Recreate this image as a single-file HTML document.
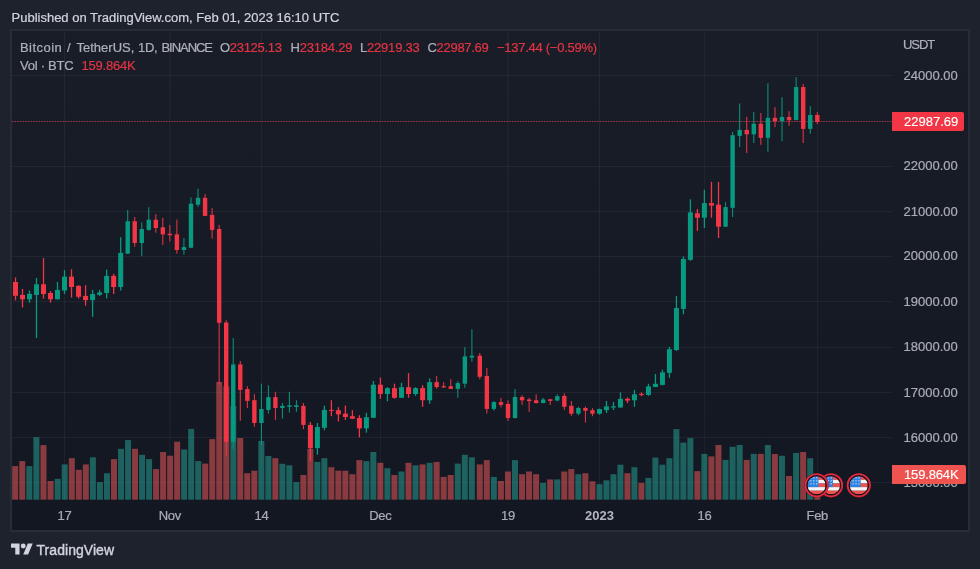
<!DOCTYPE html>
<html lang="en"><head><meta charset="utf-8"><title>Bitcoin / TetherUS chart</title>
<style>
html,body{margin:0;padding:0;}
body{width:980px;height:569px;background:#1e222d;overflow:hidden;position:relative;font-family:"Liberation Sans",sans-serif;font-size:13px;color:#adb0ba;}
.t{position:absolute;white-space:nowrap;line-height:16px;height:16px;-webkit-text-stroke:0.22px currentColor;}
#chart{position:absolute;left:10px;top:29px;width:956px;height:499px;border:2px solid #282c37;background:linear-gradient(#191d28,#131722);}
svg{position:absolute;left:0;top:0;}
.r{color:#e23443;}
.lab{position:absolute;left:892px;color:#fff;border-radius:0 2px 2px 0;height:19px;line-height:19px;}
.lab span{position:absolute;left:12px;top:0.4px;-webkit-text-stroke:0.15px #fff;}
.ax{left:903.5px;color:#a9acb6;}
.tm{top:508px;width:60px;text-align:center;color:#a9acb6;}
</style></head><body>
<div id="chart"></div>
<div class="t" id="pub" style="left:11.5px;top:10px;color:#d1d4dc;">Published on TradingView.com, Feb 01, 2023 16:10 UTC</div>
<div class="t ax" style="top:475px">15000.00</div>
<svg width="980" height="569" viewBox="0 0 980 569">
<rect x="12" y="75" width="880" height="1" fill="rgba(240,243,250,0.055)"/>
<rect x="12" y="121" width="880" height="1" fill="rgba(240,243,250,0.055)"/>
<rect x="12" y="166" width="880" height="1" fill="rgba(240,243,250,0.055)"/>
<rect x="12" y="211" width="880" height="1" fill="rgba(240,243,250,0.055)"/>
<rect x="12" y="256" width="880" height="1" fill="rgba(240,243,250,0.055)"/>
<rect x="12" y="301" width="880" height="1" fill="rgba(240,243,250,0.055)"/>
<rect x="12" y="347" width="880" height="1" fill="rgba(240,243,250,0.055)"/>
<rect x="12" y="392" width="880" height="1" fill="rgba(240,243,250,0.055)"/>
<rect x="12" y="437" width="880" height="1" fill="rgba(240,243,250,0.055)"/>
<rect x="12" y="482" width="880" height="1" fill="rgba(240,243,250,0.055)"/>
<rect x="64" y="31" width="1" height="469" fill="rgba(240,243,250,0.055)"/>
<rect x="169.35" y="31" width="1" height="469" fill="rgba(240,243,250,0.055)"/>
<rect x="260.9" y="31" width="1" height="469" fill="rgba(240,243,250,0.055)"/>
<rect x="379.9" y="31" width="1" height="469" fill="rgba(240,243,250,0.055)"/>
<rect x="507.5" y="31" width="1" height="469" fill="rgba(240,243,250,0.055)"/>
<rect x="599" y="31" width="1" height="469" fill="rgba(240,243,250,0.055)"/>
<rect x="703.9" y="31" width="1" height="469" fill="rgba(240,243,250,0.055)"/>
<rect x="816.8" y="31" width="1" height="469" fill="rgba(240,243,250,0.055)"/>
<rect x="12.15" y="466.1" width="6.0" height="33.6" fill="rgba(253,93,93,0.5)"/>
<rect x="19.23" y="461.1" width="6.0" height="38.6" fill="rgba(253,93,93,0.5)"/>
<rect x="26.31" y="466.1" width="6.0" height="33.6" fill="rgba(38,172,156,0.5)"/>
<rect x="33.39" y="437.2" width="6.0" height="62.5" fill="rgba(38,172,156,0.5)"/>
<rect x="40.47" y="445.1" width="6.0" height="54.6" fill="rgba(253,93,93,0.5)"/>
<rect x="47.56" y="481" width="6.0" height="18.7" fill="rgba(253,93,93,0.5)"/>
<rect x="54.64" y="478.8" width="6.0" height="20.9" fill="rgba(38,172,156,0.5)"/>
<rect x="61.72" y="464.4" width="6.0" height="35.3" fill="rgba(38,172,156,0.5)"/>
<rect x="68.8" y="458.2" width="6.0" height="41.5" fill="rgba(253,93,93,0.5)"/>
<rect x="75.83" y="469.8" width="6.0" height="29.9" fill="rgba(253,93,93,0.5)"/>
<rect x="82.86" y="464.4" width="6.0" height="35.3" fill="rgba(253,93,93,0.5)"/>
<rect x="89.89" y="457.3" width="6.0" height="42.4" fill="rgba(38,172,156,0.5)"/>
<rect x="96.92" y="482.1" width="6.0" height="17.6" fill="rgba(38,172,156,0.5)"/>
<rect x="103.96" y="473.2" width="6.0" height="26.5" fill="rgba(38,172,156,0.5)"/>
<rect x="110.99" y="459.1" width="6.0" height="40.6" fill="rgba(253,93,93,0.5)"/>
<rect x="118.02" y="448.8" width="6.0" height="50.9" fill="rgba(38,172,156,0.5)"/>
<rect x="125.05" y="440.1" width="6.0" height="59.6" fill="rgba(38,172,156,0.5)"/>
<rect x="132.06" y="448.8" width="6.0" height="50.9" fill="rgba(253,93,93,0.5)"/>
<rect x="139.07" y="454.8" width="6.0" height="44.9" fill="rgba(38,172,156,0.5)"/>
<rect x="146.09" y="459.1" width="6.0" height="40.6" fill="rgba(38,172,156,0.5)"/>
<rect x="153.1" y="469.05" width="6.0" height="30.65" fill="rgba(253,93,93,0.5)"/>
<rect x="160.11" y="452" width="6.0" height="47.7" fill="rgba(253,93,93,0.5)"/>
<rect x="167.12" y="455.7" width="6.0" height="44" fill="rgba(253,93,93,0.5)"/>
<rect x="174.14" y="441.7" width="6.0" height="58" fill="rgba(253,93,93,0.5)"/>
<rect x="181.15" y="449.5" width="6.0" height="50.2" fill="rgba(38,172,156,0.5)"/>
<rect x="188.17" y="428.9" width="6.0" height="70.8" fill="rgba(38,172,156,0.5)"/>
<rect x="195.2" y="461.1" width="6.0" height="38.6" fill="rgba(38,172,156,0.5)"/>
<rect x="202.22" y="463.6" width="6.0" height="36.1" fill="rgba(253,93,93,0.5)"/>
<rect x="209.25" y="439.1" width="6.0" height="60.6" fill="rgba(253,93,93,0.5)"/>
<rect x="216.27" y="381.9" width="6.0" height="117.8" fill="rgba(253,93,93,0.5)"/>
<rect x="223.3" y="386.3" width="6.0" height="113.4" fill="rgba(253,93,93,0.5)"/>
<rect x="230.32" y="406" width="6.0" height="93.7" fill="rgba(38,172,156,0.5)"/>
<rect x="237.22" y="438" width="6.0" height="61.7" fill="rgba(253,93,93,0.5)"/>
<rect x="244.27" y="473.2" width="6.0" height="26.5" fill="rgba(253,93,93,0.5)"/>
<rect x="251.31" y="470.7" width="6.0" height="29" fill="rgba(253,93,93,0.5)"/>
<rect x="258.35" y="441" width="6.0" height="58.7" fill="rgba(38,172,156,0.5)"/>
<rect x="265.35" y="455.95" width="6.0" height="43.75" fill="rgba(38,172,156,0.5)"/>
<rect x="272.35" y="458.2" width="6.0" height="41.5" fill="rgba(253,93,93,0.5)"/>
<rect x="279.35" y="463.8" width="6.0" height="35.9" fill="rgba(38,172,156,0.5)"/>
<rect x="286.35" y="465.3" width="6.0" height="34.4" fill="rgba(38,172,156,0.5)"/>
<rect x="293.35" y="482.15" width="6.0" height="17.55" fill="rgba(38,172,156,0.5)"/>
<rect x="300.35" y="475" width="6.0" height="24.7" fill="rgba(253,93,93,0.5)"/>
<rect x="307.35" y="448.8" width="6.0" height="50.9" fill="rgba(253,93,93,0.5)"/>
<rect x="314.35" y="461.9" width="6.0" height="37.8" fill="rgba(38,172,156,0.5)"/>
<rect x="321.35" y="458.2" width="6.0" height="41.5" fill="rgba(38,172,156,0.5)"/>
<rect x="328.35" y="467.2" width="6.0" height="32.5" fill="rgba(253,93,93,0.5)"/>
<rect x="335.35" y="470.7" width="6.0" height="29" fill="rgba(253,93,93,0.5)"/>
<rect x="342.35" y="470.7" width="6.0" height="29" fill="rgba(253,93,93,0.5)"/>
<rect x="349.35" y="474.2" width="6.0" height="25.5" fill="rgba(253,93,93,0.5)"/>
<rect x="356.35" y="460.1" width="6.0" height="39.6" fill="rgba(253,93,93,0.5)"/>
<rect x="363.35" y="461.1" width="6.0" height="38.6" fill="rgba(38,172,156,0.5)"/>
<rect x="370.35" y="452" width="6.0" height="47.7" fill="rgba(38,172,156,0.5)"/>
<rect x="377.35" y="462.8" width="6.0" height="36.9" fill="rgba(253,93,93,0.5)"/>
<rect x="384.39" y="468.2" width="6.0" height="31.5" fill="rgba(38,172,156,0.5)"/>
<rect x="391.42" y="475" width="6.0" height="24.7" fill="rgba(253,93,93,0.5)"/>
<rect x="398.46" y="471.5" width="6.0" height="28.2" fill="rgba(38,172,156,0.5)"/>
<rect x="405.49" y="462.8" width="6.0" height="36.9" fill="rgba(253,93,93,0.5)"/>
<rect x="412.53" y="465.3" width="6.0" height="34.4" fill="rgba(38,172,156,0.5)"/>
<rect x="419.56" y="464.4" width="6.0" height="35.3" fill="rgba(253,93,93,0.5)"/>
<rect x="426.6" y="462.8" width="6.0" height="36.9" fill="rgba(38,172,156,0.5)"/>
<rect x="433.64" y="461.9" width="6.0" height="37.8" fill="rgba(253,93,93,0.5)"/>
<rect x="440.68" y="476.9" width="6.0" height="22.8" fill="rgba(253,93,93,0.5)"/>
<rect x="447.72" y="475" width="6.0" height="24.7" fill="rgba(253,93,93,0.5)"/>
<rect x="454.77" y="463.6" width="6.0" height="36.1" fill="rgba(38,172,156,0.5)"/>
<rect x="461.81" y="454.8" width="6.0" height="44.9" fill="rgba(38,172,156,0.5)"/>
<rect x="468.85" y="457.3" width="6.0" height="42.4" fill="rgba(38,172,156,0.5)"/>
<rect x="476.75" y="464.4" width="6.0" height="35.3" fill="rgba(253,93,93,0.5)"/>
<rect x="483.8" y="460.1" width="6.0" height="39.6" fill="rgba(253,93,93,0.5)"/>
<rect x="490.85" y="476.9" width="6.0" height="22.8" fill="rgba(38,172,156,0.5)"/>
<rect x="497.9" y="481" width="6.0" height="18.7" fill="rgba(253,93,93,0.5)"/>
<rect x="504.95" y="471.5" width="6.0" height="28.2" fill="rgba(253,93,93,0.5)"/>
<rect x="511.99" y="460.1" width="6.0" height="39.6" fill="rgba(38,172,156,0.5)"/>
<rect x="519.03" y="474.2" width="6.0" height="25.5" fill="rgba(253,93,93,0.5)"/>
<rect x="526.07" y="471.5" width="6.0" height="28.2" fill="rgba(253,93,93,0.5)"/>
<rect x="533.1" y="474.2" width="6.0" height="25.5" fill="rgba(253,93,93,0.5)"/>
<rect x="540.14" y="482.9" width="6.0" height="16.8" fill="rgba(38,172,156,0.5)"/>
<rect x="547.18" y="479.4" width="6.0" height="20.3" fill="rgba(253,93,93,0.5)"/>
<rect x="554.22" y="479.4" width="6.0" height="20.3" fill="rgba(38,172,156,0.5)"/>
<rect x="561.26" y="471.5" width="6.0" height="28.2" fill="rgba(253,93,93,0.5)"/>
<rect x="568.3" y="469.05" width="6.0" height="30.65" fill="rgba(253,93,93,0.5)"/>
<rect x="575.33" y="474.2" width="6.0" height="25.5" fill="rgba(38,172,156,0.5)"/>
<rect x="582.37" y="473.2" width="6.0" height="26.5" fill="rgba(253,93,93,0.5)"/>
<rect x="589.41" y="481.3" width="6.0" height="18.4" fill="rgba(253,93,93,0.5)"/>
<rect x="596.45" y="484.1" width="6.0" height="15.6" fill="rgba(38,172,156,0.5)"/>
<rect x="603.44" y="480.3" width="6.0" height="19.4" fill="rgba(38,172,156,0.5)"/>
<rect x="610.44" y="474.2" width="6.0" height="25.5" fill="rgba(38,172,156,0.5)"/>
<rect x="617.43" y="464.7" width="6.0" height="35" fill="rgba(38,172,156,0.5)"/>
<rect x="624.42" y="473.2" width="6.0" height="26.5" fill="rgba(253,93,93,0.5)"/>
<rect x="631.42" y="467.2" width="6.0" height="32.5" fill="rgba(38,172,156,0.5)"/>
<rect x="638.41" y="482.9" width="6.0" height="16.8" fill="rgba(253,93,93,0.5)"/>
<rect x="645.4" y="477.9" width="6.0" height="21.8" fill="rgba(38,172,156,0.5)"/>
<rect x="652.4" y="457.6" width="6.0" height="42.1" fill="rgba(38,172,156,0.5)"/>
<rect x="659.39" y="464.7" width="6.0" height="35" fill="rgba(38,172,156,0.5)"/>
<rect x="666.38" y="458.2" width="6.0" height="41.5" fill="rgba(38,172,156,0.5)"/>
<rect x="673.38" y="429.1" width="6.0" height="70.6" fill="rgba(38,172,156,0.5)"/>
<rect x="680.37" y="442.6" width="6.0" height="57.1" fill="rgba(38,172,156,0.5)"/>
<rect x="687.36" y="438.1" width="6.0" height="61.6" fill="rgba(38,172,156,0.5)"/>
<rect x="694.36" y="471.15" width="6.0" height="28.55" fill="rgba(253,93,93,0.5)"/>
<rect x="701.35" y="453.9" width="6.0" height="45.8" fill="rgba(38,172,156,0.5)"/>
<rect x="708.41" y="456.4" width="6.0" height="43.3" fill="rgba(253,93,93,0.5)"/>
<rect x="715.46" y="444.95" width="6.0" height="54.75" fill="rgba(253,93,93,0.5)"/>
<rect x="722.52" y="459.9" width="6.0" height="39.8" fill="rgba(38,172,156,0.5)"/>
<rect x="729.58" y="446.8" width="6.0" height="52.9" fill="rgba(38,172,156,0.5)"/>
<rect x="736.63" y="444.95" width="6.0" height="54.75" fill="rgba(38,172,156,0.5)"/>
<rect x="743.69" y="459.9" width="6.0" height="39.8" fill="rgba(253,93,93,0.5)"/>
<rect x="750.74" y="453.9" width="6.0" height="45.8" fill="rgba(38,172,156,0.5)"/>
<rect x="757.8" y="453.9" width="6.0" height="45.8" fill="rgba(253,93,93,0.5)"/>
<rect x="764.86" y="445" width="6.0" height="54.7" fill="rgba(38,172,156,0.5)"/>
<rect x="771.91" y="454" width="6.0" height="45.7" fill="rgba(253,93,93,0.5)"/>
<rect x="778.97" y="455.75" width="6.0" height="43.95" fill="rgba(38,172,156,0.5)"/>
<rect x="786.02" y="476" width="6.0" height="23.7" fill="rgba(253,93,93,0.5)"/>
<rect x="793.08" y="452.95" width="6.0" height="46.75" fill="rgba(38,172,156,0.5)"/>
<rect x="800.14" y="451.96" width="6.0" height="47.74" fill="rgba(253,93,93,0.5)"/>
<rect x="807.19" y="458.2" width="6.0" height="41.5" fill="rgba(38,172,156,0.5)"/>
<rect x="814.25" y="475" width="6.0" height="24.7" fill="rgba(253,93,93,0.5)"/>
<line x1="12" y1="121.5" x2="892" y2="121.5" stroke="#f23645" stroke-width="1" stroke-dasharray="1.25 1.41" stroke-opacity="0.72"/>
<rect x="14.85" y="277.4" width="1.3" height="22.9" fill="#f23645"/>
<rect x="13" y="282" width="5.0" height="13.8" fill="#f23645"/>
<rect x="21.85" y="288.9" width="1.3" height="18.6" fill="#f23645"/>
<rect x="20" y="294.9" width="5.0" height="4.4" fill="#f23645"/>
<rect x="28.85" y="290.5" width="1.3" height="12.2" fill="#089981"/>
<rect x="27" y="293.9" width="5.0" height="5.4" fill="#089981"/>
<rect x="35.85" y="278" width="1.3" height="60" fill="#089981"/>
<rect x="34" y="284.3" width="5.0" height="10.6" fill="#089981"/>
<rect x="42.85" y="258.1" width="1.3" height="40.5" fill="#f23645"/>
<rect x="41" y="284.3" width="5.0" height="9.7" fill="#f23645"/>
<rect x="49.85" y="291.1" width="1.3" height="11.6" fill="#f23645"/>
<rect x="48" y="293" width="5.0" height="6.3" fill="#f23645"/>
<rect x="56.85" y="282" width="1.3" height="17.6" fill="#089981"/>
<rect x="55" y="289.9" width="5.0" height="9.4" fill="#089981"/>
<rect x="63.85" y="270.2" width="1.3" height="23.7" fill="#089981"/>
<rect x="62" y="276.6" width="5.0" height="13.9" fill="#089981"/>
<rect x="70.87" y="269.3" width="1.3" height="28.3" fill="#f23645"/>
<rect x="69.02" y="276.6" width="5.0" height="10.4" fill="#f23645"/>
<rect x="77.9" y="285.2" width="1.3" height="13.4" fill="#f23645"/>
<rect x="76.05" y="285.9" width="5.0" height="10.9" fill="#f23645"/>
<rect x="84.92" y="285.2" width="1.3" height="20.5" fill="#f23645"/>
<rect x="83.07" y="295.9" width="5.0" height="4.2" fill="#f23645"/>
<rect x="91.94" y="289.9" width="1.3" height="26.9" fill="#089981"/>
<rect x="90.09" y="294" width="5.0" height="6.1" fill="#089981"/>
<rect x="98.97" y="289.9" width="1.3" height="6" fill="#089981"/>
<rect x="97.12" y="292.4" width="5.0" height="2.5" fill="#089981"/>
<rect x="105.99" y="269.6" width="1.3" height="28.8" fill="#089981"/>
<rect x="104.14" y="275.9" width="5.0" height="17.1" fill="#089981"/>
<rect x="113.01" y="273.9" width="1.3" height="20.1" fill="#f23645"/>
<rect x="111.16" y="275.9" width="5.0" height="11.1" fill="#f23645"/>
<rect x="120.04" y="237.2" width="1.3" height="53.3" fill="#089981"/>
<rect x="118.19" y="252.9" width="5.0" height="34.1" fill="#089981"/>
<rect x="127.21" y="210" width="1.0" height="44" fill="#089981"/>
<rect x="125.51" y="221.2" width="4.4" height="32.5" fill="#089981"/>
<rect x="134.23" y="217" width="1.0" height="29.8" fill="#f23645"/>
<rect x="132.53" y="221.2" width="4.4" height="21.8" fill="#f23645"/>
<rect x="141.26" y="222.3" width="1.0" height="34" fill="#089981"/>
<rect x="139.56" y="229" width="4.4" height="14" fill="#089981"/>
<rect x="148.28" y="207.2" width="1.0" height="23.7" fill="#089981"/>
<rect x="146.58" y="219.7" width="4.4" height="10.2" fill="#089981"/>
<rect x="155.3" y="214.2" width="1.0" height="18.5" fill="#f23645"/>
<rect x="153.6" y="219.7" width="4.4" height="8.3" fill="#f23645"/>
<rect x="162.33" y="217.8" width="1.0" height="27.1" fill="#f23645"/>
<rect x="160.63" y="227.3" width="4.4" height="7.1" fill="#f23645"/>
<rect x="169.35" y="224.9" width="1.0" height="16.6" fill="#f23645"/>
<rect x="167.65" y="233.7" width="4.4" height="1.5" fill="#f23645"/>
<rect x="176.39" y="219.6" width="1.0" height="34.1" fill="#f23645"/>
<rect x="174.69" y="234.3" width="4.4" height="15.7" fill="#f23645"/>
<rect x="183.43" y="238" width="1.0" height="16.7" fill="#089981"/>
<rect x="181.73" y="247.1" width="4.4" height="2.9" fill="#089981"/>
<rect x="190.48" y="197.5" width="1.0" height="50.5" fill="#089981"/>
<rect x="188.78" y="203.7" width="4.4" height="44" fill="#089981"/>
<rect x="197.52" y="188.7" width="1.0" height="18.1" fill="#089981"/>
<rect x="195.82" y="197.8" width="4.4" height="6.9" fill="#089981"/>
<rect x="204.56" y="194.1" width="1.0" height="22.1" fill="#f23645"/>
<rect x="202.86" y="197.8" width="4.4" height="18.1" fill="#f23645"/>
<rect x="211.6" y="208.1" width="1.0" height="30.5" fill="#f23645"/>
<rect x="209.9" y="214.9" width="4.4" height="15" fill="#f23645"/>
<rect x="218.65" y="224.9" width="1.0" height="159.5" fill="#f23645"/>
<rect x="216.95" y="229" width="4.4" height="93.8" fill="#f23645"/>
<rect x="225.69" y="320.2" width="1.0" height="135.3" fill="#f23645"/>
<rect x="223.99" y="322.5" width="4.4" height="119.3" fill="#f23645"/>
<rect x="232.73" y="338" width="1.0" height="110.7" fill="#089981"/>
<rect x="231.03" y="364.4" width="4.4" height="77.4" fill="#089981"/>
<rect x="239.77" y="361" width="1.0" height="59.8" fill="#f23645"/>
<rect x="238.07" y="364.4" width="4.4" height="25.5" fill="#f23645"/>
<rect x="246.82" y="386.2" width="1.0" height="21.8" fill="#f23645"/>
<rect x="245.12" y="389.1" width="4.4" height="11.8" fill="#f23645"/>
<rect x="253.86" y="394.1" width="1.0" height="32.7" fill="#f23645"/>
<rect x="252.16" y="400.2" width="4.4" height="22.8" fill="#f23645"/>
<rect x="260.9" y="383.7" width="1.0" height="61.2" fill="#089981"/>
<rect x="259.2" y="409" width="4.4" height="14" fill="#089981"/>
<rect x="267.9" y="385.3" width="1.0" height="28.3" fill="#089981"/>
<rect x="266.2" y="397.1" width="4.4" height="12.8" fill="#089981"/>
<rect x="274.9" y="391.8" width="1.0" height="28.1" fill="#f23645"/>
<rect x="273.2" y="397.1" width="4.4" height="10.9" fill="#f23645"/>
<rect x="281.9" y="403" width="1.0" height="15.6" fill="#089981"/>
<rect x="280.2" y="405.9" width="4.4" height="2.1" fill="#089981"/>
<rect x="288.9" y="391.8" width="1.0" height="20.8" fill="#089981"/>
<rect x="287.2" y="405.3" width="4.4" height="1.5" fill="#089981"/>
<rect x="295.9" y="400.2" width="1.0" height="11.6" fill="#089981"/>
<rect x="294.2" y="405.3" width="4.4" height="1.7" fill="#089981"/>
<rect x="302.9" y="403" width="1.0" height="26.2" fill="#f23645"/>
<rect x="301.2" y="405.9" width="4.4" height="19" fill="#f23645"/>
<rect x="309.75" y="422.1" width="1.3" height="38.8" fill="#f23645"/>
<rect x="307.9" y="424.9" width="5.0" height="23.2" fill="#f23645"/>
<rect x="316.75" y="423" width="1.3" height="31.7" fill="#089981"/>
<rect x="314.9" y="427" width="5.0" height="21.1" fill="#089981"/>
<rect x="323.75" y="405.6" width="1.3" height="24.7" fill="#089981"/>
<rect x="321.9" y="409.9" width="5.0" height="17.9" fill="#089981"/>
<rect x="330.75" y="400.2" width="1.3" height="16" fill="#f23645"/>
<rect x="328.9" y="409.9" width="5.0" height="1" fill="#f23645"/>
<rect x="337.75" y="407.2" width="1.3" height="14.3" fill="#f23645"/>
<rect x="335.9" y="410.2" width="5.0" height="4.1" fill="#f23645"/>
<rect x="344.75" y="405.6" width="1.3" height="14.3" fill="#f23645"/>
<rect x="342.9" y="413.7" width="5.0" height="3.3" fill="#f23645"/>
<rect x="351.75" y="410.2" width="1.3" height="8.8" fill="#f23645"/>
<rect x="349.9" y="416.2" width="5.0" height="2.5" fill="#f23645"/>
<rect x="358.75" y="415.3" width="1.3" height="22.1" fill="#f23645"/>
<rect x="356.9" y="418" width="5.0" height="10.4" fill="#f23645"/>
<rect x="365.75" y="412.8" width="1.3" height="19.9" fill="#089981"/>
<rect x="363.9" y="417.2" width="5.0" height="11.2" fill="#089981"/>
<rect x="372.75" y="381" width="1.3" height="37" fill="#089981"/>
<rect x="370.9" y="384.7" width="5.0" height="33.1" fill="#089981"/>
<rect x="379.75" y="377.5" width="1.3" height="21.4" fill="#f23645"/>
<rect x="377.9" y="384.7" width="5.0" height="9.3" fill="#f23645"/>
<rect x="386.79" y="387.2" width="1.3" height="14" fill="#089981"/>
<rect x="384.94" y="388.1" width="5.0" height="5.9" fill="#089981"/>
<rect x="393.82" y="383.7" width="1.3" height="15" fill="#f23645"/>
<rect x="391.97" y="388.1" width="5.0" height="9.7" fill="#f23645"/>
<rect x="400.86" y="382.8" width="1.3" height="15.2" fill="#089981"/>
<rect x="399.01" y="387.2" width="5.0" height="10.6" fill="#089981"/>
<rect x="407.89" y="373.1" width="1.3" height="24.7" fill="#f23645"/>
<rect x="406.04" y="387.2" width="5.0" height="6.8" fill="#f23645"/>
<rect x="414.93" y="387.2" width="1.3" height="8.7" fill="#089981"/>
<rect x="413.08" y="388.1" width="5.0" height="5.9" fill="#089981"/>
<rect x="421.96" y="385.2" width="1.3" height="21.6" fill="#f23645"/>
<rect x="420.11" y="388.1" width="5.0" height="12.1" fill="#f23645"/>
<rect x="429" y="378.4" width="1.3" height="25.4" fill="#089981"/>
<rect x="427.15" y="382.1" width="5.0" height="18.2" fill="#089981"/>
<rect x="436.19" y="375.9" width="1.0" height="12.8" fill="#f23645"/>
<rect x="434.49" y="382.1" width="4.4" height="5" fill="#f23645"/>
<rect x="443.23" y="382.1" width="1.0" height="5.9" fill="#f23645"/>
<rect x="441.53" y="386.2" width="4.4" height="1.2" fill="#f23645"/>
<rect x="450.27" y="379.3" width="1.0" height="9.7" fill="#f23645"/>
<rect x="448.57" y="386.2" width="4.4" height="2.7" fill="#f23645"/>
<rect x="457.32" y="381.2" width="1.0" height="16.6" fill="#089981"/>
<rect x="455.62" y="383.1" width="4.4" height="5.8" fill="#089981"/>
<rect x="464.36" y="347.05" width="1.0" height="40.75" fill="#089981"/>
<rect x="462.66" y="356.4" width="4.4" height="27.3" fill="#089981"/>
<rect x="471.4" y="329.3" width="1.0" height="32.4" fill="#089981"/>
<rect x="469.7" y="355.7" width="4.4" height="1.8" fill="#089981"/>
<rect x="479.3" y="353" width="1.0" height="26.2" fill="#f23645"/>
<rect x="477.6" y="355.7" width="4.4" height="21.1" fill="#f23645"/>
<rect x="486.35" y="368" width="1.0" height="45.6" fill="#f23645"/>
<rect x="484.65" y="375.9" width="4.4" height="33" fill="#f23645"/>
<rect x="493.4" y="401.1" width="1.0" height="9.7" fill="#089981"/>
<rect x="491.7" y="402.1" width="4.4" height="6.8" fill="#089981"/>
<rect x="500.45" y="397.8" width="1.0" height="9.6" fill="#f23645"/>
<rect x="498.75" y="402.1" width="4.4" height="2.8" fill="#f23645"/>
<rect x="507.5" y="400.3" width="1.0" height="20.6" fill="#f23645"/>
<rect x="505.8" y="403.9" width="4.4" height="14.1" fill="#f23645"/>
<rect x="514.54" y="389" width="1.0" height="29.6" fill="#089981"/>
<rect x="512.84" y="397" width="4.4" height="21" fill="#089981"/>
<rect x="521.58" y="395.2" width="1.0" height="9.7" fill="#f23645"/>
<rect x="519.88" y="397" width="4.4" height="3.3" fill="#f23645"/>
<rect x="528.62" y="397.8" width="1.0" height="14" fill="#f23645"/>
<rect x="526.92" y="399.5" width="4.4" height="1.6" fill="#f23645"/>
<rect x="535.65" y="394.3" width="1.0" height="9.3" fill="#f23645"/>
<rect x="533.95" y="400.3" width="4.4" height="2.7" fill="#f23645"/>
<rect x="542.69" y="397.8" width="1.0" height="5.4" fill="#089981"/>
<rect x="540.99" y="399.5" width="4.4" height="3.5" fill="#089981"/>
<rect x="549.73" y="398.7" width="1.0" height="6.2" fill="#f23645"/>
<rect x="548.03" y="399.3" width="4.4" height="1.6" fill="#f23645"/>
<rect x="556.77" y="394.3" width="1.0" height="6.8" fill="#089981"/>
<rect x="555.07" y="396.2" width="4.4" height="4.3" fill="#089981"/>
<rect x="563.81" y="393.4" width="1.0" height="16.5" fill="#f23645"/>
<rect x="562.11" y="395.9" width="4.4" height="10.9" fill="#f23645"/>
<rect x="570.85" y="401" width="1.0" height="14.9" fill="#f23645"/>
<rect x="569.15" y="405.8" width="4.4" height="7.9" fill="#f23645"/>
<rect x="577.88" y="406.7" width="1.0" height="8.6" fill="#089981"/>
<rect x="576.18" y="408" width="4.4" height="5.7" fill="#089981"/>
<rect x="584.92" y="406.4" width="1.0" height="16.1" fill="#f23645"/>
<rect x="583.22" y="408" width="4.4" height="2.8" fill="#f23645"/>
<rect x="591.96" y="408.2" width="1.0" height="8" fill="#f23645"/>
<rect x="590.26" y="410.2" width="4.4" height="3.5" fill="#f23645"/>
<rect x="598.85" y="408.6" width="1.3" height="6.1" fill="#089981"/>
<rect x="597" y="409.1" width="5.0" height="4.6" fill="#089981"/>
<rect x="605.84" y="401" width="1.3" height="11.9" fill="#089981"/>
<rect x="603.99" y="406.4" width="5.0" height="3.7" fill="#089981"/>
<rect x="612.84" y="402" width="1.3" height="8.1" fill="#089981"/>
<rect x="610.99" y="406.3" width="5.0" height="1.2" fill="#089981"/>
<rect x="619.83" y="392.4" width="1.3" height="15.4" fill="#089981"/>
<rect x="617.98" y="398.8" width="5.0" height="8.7" fill="#089981"/>
<rect x="626.82" y="397.5" width="1.3" height="5.6" fill="#f23645"/>
<rect x="624.97" y="398.8" width="5.0" height="1.8" fill="#f23645"/>
<rect x="633.82" y="389.9" width="1.3" height="16.9" fill="#089981"/>
<rect x="631.97" y="394.3" width="5.0" height="6" fill="#089981"/>
<rect x="640.81" y="392.4" width="1.3" height="3.8" fill="#f23645"/>
<rect x="638.96" y="393.9" width="5.0" height="1" fill="#f23645"/>
<rect x="647.8" y="383.8" width="1.3" height="12" fill="#089981"/>
<rect x="645.95" y="386.4" width="5.0" height="8.5" fill="#089981"/>
<rect x="654.8" y="374" width="1.3" height="13.2" fill="#089981"/>
<rect x="652.95" y="383.8" width="5.0" height="3.2" fill="#089981"/>
<rect x="661.79" y="369.7" width="1.3" height="15.8" fill="#089981"/>
<rect x="659.94" y="372.4" width="5.0" height="12.5" fill="#089981"/>
<rect x="668.78" y="346.8" width="1.3" height="31" fill="#089981"/>
<rect x="666.93" y="349.3" width="5.0" height="23.5" fill="#089981"/>
<rect x="675.78" y="295.9" width="1.3" height="55.1" fill="#089981"/>
<rect x="673.93" y="308.05" width="5.0" height="41.95" fill="#089981"/>
<rect x="682.77" y="256.4" width="1.3" height="57.9" fill="#089981"/>
<rect x="680.92" y="258.9" width="5.0" height="50" fill="#089981"/>
<rect x="689.76" y="199.3" width="1.3" height="61.5" fill="#089981"/>
<rect x="687.91" y="212.4" width="5.0" height="47.5" fill="#089981"/>
<rect x="696.76" y="209" width="1.3" height="21.9" fill="#f23645"/>
<rect x="694.91" y="213.3" width="5.0" height="4.4" fill="#f23645"/>
<rect x="703.75" y="189.7" width="1.3" height="38.3" fill="#089981"/>
<rect x="701.9" y="203.1" width="5.0" height="14.6" fill="#089981"/>
<rect x="710.81" y="181.9" width="1.3" height="35.8" fill="#f23645"/>
<rect x="708.96" y="203.1" width="5.0" height="2.5" fill="#f23645"/>
<rect x="717.86" y="181.9" width="1.3" height="56.1" fill="#f23645"/>
<rect x="716.01" y="204.7" width="5.0" height="22" fill="#f23645"/>
<rect x="725.07" y="202.1" width="1.0" height="24.9" fill="#089981"/>
<rect x="723.37" y="207.1" width="4.4" height="19.6" fill="#089981"/>
<rect x="732.12" y="131.8" width="1.0" height="85.2" fill="#089981"/>
<rect x="730.42" y="135.2" width="4.4" height="72.6" fill="#089981"/>
<rect x="739.18" y="103.5" width="1.0" height="43.5" fill="#089981"/>
<rect x="737.48" y="129.9" width="4.4" height="6" fill="#089981"/>
<rect x="746.24" y="116.9" width="1.0" height="36.1" fill="#f23645"/>
<rect x="744.54" y="129.9" width="4.4" height="4.4" fill="#f23645"/>
<rect x="753.29" y="112.1" width="1.0" height="30.9" fill="#089981"/>
<rect x="751.59" y="123.7" width="4.4" height="10.6" fill="#089981"/>
<rect x="760.35" y="113" width="1.0" height="31.9" fill="#f23645"/>
<rect x="758.65" y="123.7" width="4.4" height="14.1" fill="#f23645"/>
<rect x="767.41" y="83.3" width="1.0" height="68.5" fill="#089981"/>
<rect x="765.71" y="117.8" width="4.4" height="20" fill="#089981"/>
<rect x="774.46" y="107.1" width="1.0" height="20" fill="#f23645"/>
<rect x="772.76" y="117.8" width="4.4" height="3.4" fill="#f23645"/>
<rect x="781.52" y="97.2" width="1.0" height="44" fill="#089981"/>
<rect x="779.82" y="117" width="4.4" height="4.2" fill="#089981"/>
<rect x="788.57" y="111.1" width="1.0" height="14.7" fill="#f23645"/>
<rect x="786.87" y="117" width="4.4" height="3.2" fill="#f23645"/>
<rect x="795.63" y="77.1" width="1.0" height="43.4" fill="#089981"/>
<rect x="793.93" y="87.05" width="4.4" height="32.95" fill="#089981"/>
<rect x="802.69" y="83.9" width="1.0" height="59.1" fill="#f23645"/>
<rect x="800.99" y="87.05" width="4.4" height="41.85" fill="#f23645"/>
<rect x="809.74" y="106.1" width="1.0" height="27.6" fill="#089981"/>
<rect x="808.04" y="115" width="4.4" height="13.9" fill="#089981"/>
<rect x="816.8" y="112.1" width="1.0" height="11.9" fill="#f23645"/>
<rect x="815.1" y="115" width="4.4" height="6.9" fill="#f23645"/>
<circle cx="858.8" cy="485.3" r="12.1" fill="#15101b"/><circle cx="858.8" cy="485.3" r="11.2" fill="none" stroke="#e22b3e" stroke-width="1.8"/><clipPath id="fc0"><circle cx="858.8" cy="485.3" r="9.0"/></clipPath><g clip-path="url(#fc0)"><rect x="849.8" y="476.3" width="18" height="3.65" fill="#ef5350"/><rect x="849.8" y="479.9" width="18" height="3.65" fill="#f5f5f8"/><rect x="849.8" y="483.5" width="18" height="3.65" fill="#ef5350"/><rect x="849.8" y="487.1" width="18" height="3.65" fill="#f5f5f8"/><rect x="849.8" y="490.7" width="18" height="3.65" fill="#ef5350"/><rect x="849.8" y="476.3" width="10.9" height="10.8" fill="#2c82e0"/><rect x="852.5" y="477.3" width="1.3" height="1.1" fill="#cfe3fa"/><rect x="855.4" y="477.3" width="1.3" height="1.1" fill="#cfe3fa"/><rect x="858.3" y="477.3" width="1.3" height="1.1" fill="#cfe3fa"/><rect x="852.5" y="480.3" width="1.3" height="1.1" fill="#cfe3fa"/><rect x="855.4" y="480.3" width="1.3" height="1.1" fill="#cfe3fa"/><rect x="858.3" y="480.3" width="1.3" height="1.1" fill="#cfe3fa"/><rect x="852.5" y="483.3" width="1.3" height="1.1" fill="#cfe3fa"/><rect x="855.4" y="483.3" width="1.3" height="1.1" fill="#cfe3fa"/><rect x="858.3" y="483.3" width="1.3" height="1.1" fill="#cfe3fa"/></g>
<circle cx="831.0" cy="485.3" r="12.1" fill="#15101b"/><circle cx="831.0" cy="485.3" r="11.2" fill="none" stroke="#e22b3e" stroke-width="1.8"/><clipPath id="fc1"><circle cx="831.0" cy="485.3" r="9.0"/></clipPath><g clip-path="url(#fc1)"><rect x="822" y="476.3" width="18" height="3.65" fill="#ef5350"/><rect x="822" y="479.9" width="18" height="3.65" fill="#f5f5f8"/><rect x="822" y="483.5" width="18" height="3.65" fill="#ef5350"/><rect x="822" y="487.1" width="18" height="3.65" fill="#f5f5f8"/><rect x="822" y="490.7" width="18" height="3.65" fill="#ef5350"/><rect x="822" y="476.3" width="10.9" height="10.8" fill="#2c82e0"/><rect x="824.7" y="477.3" width="1.3" height="1.1" fill="#cfe3fa"/><rect x="827.6" y="477.3" width="1.3" height="1.1" fill="#cfe3fa"/><rect x="830.5" y="477.3" width="1.3" height="1.1" fill="#cfe3fa"/><rect x="824.7" y="480.3" width="1.3" height="1.1" fill="#cfe3fa"/><rect x="827.6" y="480.3" width="1.3" height="1.1" fill="#cfe3fa"/><rect x="830.5" y="480.3" width="1.3" height="1.1" fill="#cfe3fa"/><rect x="824.7" y="483.3" width="1.3" height="1.1" fill="#cfe3fa"/><rect x="827.6" y="483.3" width="1.3" height="1.1" fill="#cfe3fa"/><rect x="830.5" y="483.3" width="1.3" height="1.1" fill="#cfe3fa"/></g>
<circle cx="816.6" cy="485.3" r="12.1" fill="#15101b"/><circle cx="816.6" cy="485.3" r="11.2" fill="none" stroke="#e22b3e" stroke-width="1.8"/><clipPath id="fc2"><circle cx="816.6" cy="485.3" r="9.0"/></clipPath><g clip-path="url(#fc2)"><rect x="807.6" y="476.3" width="18" height="3.65" fill="#ef5350"/><rect x="807.6" y="479.9" width="18" height="3.65" fill="#f5f5f8"/><rect x="807.6" y="483.5" width="18" height="3.65" fill="#ef5350"/><rect x="807.6" y="487.1" width="18" height="3.65" fill="#f5f5f8"/><rect x="807.6" y="490.7" width="18" height="3.65" fill="#ef5350"/><rect x="807.6" y="476.3" width="10.9" height="10.8" fill="#2c82e0"/><rect x="810.3" y="477.3" width="1.3" height="1.1" fill="#cfe3fa"/><rect x="813.2" y="477.3" width="1.3" height="1.1" fill="#cfe3fa"/><rect x="816.1" y="477.3" width="1.3" height="1.1" fill="#cfe3fa"/><rect x="810.3" y="480.3" width="1.3" height="1.1" fill="#cfe3fa"/><rect x="813.2" y="480.3" width="1.3" height="1.1" fill="#cfe3fa"/><rect x="816.1" y="480.3" width="1.3" height="1.1" fill="#cfe3fa"/><rect x="810.3" y="483.3" width="1.3" height="1.1" fill="#cfe3fa"/><rect x="813.2" y="483.3" width="1.3" height="1.1" fill="#cfe3fa"/><rect x="816.1" y="483.3" width="1.3" height="1.1" fill="#cfe3fa"/></g>
</svg>
<div class="t" id="w1" style="left:20px;top:39.5px;letter-spacing:0.45px">Bitcoin</div>
<div class="t" id="w2" style="left:67px;top:39.5px;">/</div>
<div class="t" id="w3" style="left:76.5px;top:39.5px;">TetherUS,</div>
<div class="t" id="w4" style="left:138px;top:39.5px;letter-spacing:-0.3px">1D,</div>
<div class="t" id="w5" style="left:161.5px;top:39.5px;letter-spacing:-1.05px">BINANCE</div>
<div class="t" id="lo" style="letter-spacing:-0.3px;left:220px;top:39.5px;">O<span class="r">23125.13</span></div>
<div class="t" id="lh" style="letter-spacing:-0.2px;left:290.5px;top:39.5px;">H<span class="r">23184.29</span></div>
<div class="t" id="ll" style="letter-spacing:-0.2px;left:360px;top:39.5px;">L<span class="r">22919.33</span></div>
<div class="t" id="lc" style="letter-spacing:-0.3px;left:427.5px;top:39.5px;">C<span class="r">22987.69</span></div>
<div class="t r" id="lchg" style="letter-spacing:-0.27px;left:497px;top:39.5px;">&minus;137.44 (&minus;0.59%)</div>
<div class="t" id="leg2" style="letter-spacing:-0.25px;left:20px;top:58px;">Vol &middot; BTC</div>
<div class="t r" id="lv" style="letter-spacing:-0.2px;left:81.5px;top:58px;">159.864K</div>
<div class="t" id="usdt" style="left:903px;top:37px;letter-spacing:-1.05px">USDT</div>
<div class="t ax" style="top:68px">24000.00</div>
<div class="t ax" style="top:158px">22000.00</div>
<div class="t ax" style="top:204px">21000.00</div>
<div class="t ax" style="top:248px">20000.00</div>
<div class="t ax" style="top:294px">19000.00</div>
<div class="t ax" style="top:339px">18000.00</div>
<div class="t ax" style="top:385px">17000.00</div>
<div class="t ax" style="top:430px">16000.00</div>

<div class="lab" style="top:112px;width:72px;background:#f23645;"><span>22987.69</span></div>
<div class="lab" style="top:465px;width:74px;background:#ef5350;letter-spacing:-0.15px"><span>159.864K</span></div>
<div class="t tm" style="left:34.5px;letter-spacing:-0.3px;">17</div>
<div class="t tm" style="left:139.85px;letter-spacing:-0.3px;">Nov</div>
<div class="t tm" style="left:231.4px;letter-spacing:-0.3px;">14</div>
<div class="t tm" style="left:350.4px;letter-spacing:-0.3px;">Dec</div>
<div class="t tm" style="left:478px;letter-spacing:-0.3px;">19</div>
<div class="t tm" style="left:569.5px;font-weight:bold;color:#b4b7c1;-webkit-text-stroke:0;">2023</div>
<div class="t tm" style="left:674.4px;letter-spacing:-0.3px;">16</div>
<div class="t tm" style="left:787.3px;letter-spacing:-0.3px;">Feb</div>

<svg style="left:11px;top:543.4px" width="22" height="12" viewBox="0 0 36 18"><path fill="#d1d4dc" d="M14 18H7V7H0V0h14v18zM28 18H20l7.500-18h8L28 18z"/><circle cx="20" cy="4" r="4" fill="#d1d4dc"/></svg>
<div class="t" id="tv" style="left:36.5px;top:542.2px;font-size:14px;color:#d1d4dc;-webkit-text-stroke:0.4px #d1d4dc;letter-spacing:0.05px;">TradingView</div>
</body></html>
